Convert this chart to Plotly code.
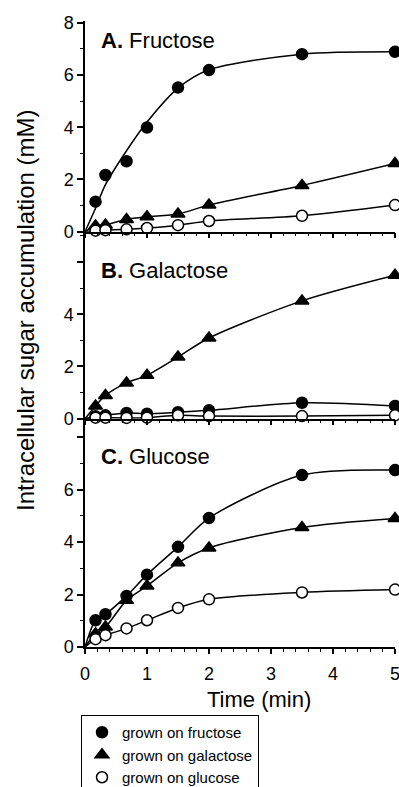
import plotly.graph_objects as go

# ---------------- data ----------------
time = [0.17, 0.33, 0.67, 1.0, 1.5, 2.0, 3.5, 5.0]

# Panel A. Fructose uptake
a_fru = [1.15, 2.17, 2.70, 3.99, 5.52, 6.19, 6.80, 6.89]
a_gal = [0.22, 0.26, 0.47, 0.57, 0.68, 1.02, 1.77, 2.61]
a_glc = [0.04, 0.06, 0.09, 0.14, 0.25, 0.41, 0.61, 1.02]
# Panel B. Galactose uptake
b_fru = [0.09, 0.13, 0.22, 0.19, 0.25, 0.32, 0.61, 0.49]
b_gal = [0.49, 0.89, 1.37, 1.66, 2.36, 3.09, 4.51, 5.49]
b_glc = [0.04, 0.04, 0.03, 0.04, 0.13, 0.10, 0.10, 0.13]
# Panel C. Glucose uptake
c_fru = [1.02, 1.25, 1.95, 2.76, 3.82, 4.92, 6.56, 6.75]
c_gal = [0.51, 0.76, 1.78, 2.33, 3.21, 3.78, 4.56, 4.90]
c_glc = [0.30, 0.45, 0.71, 1.02, 1.49, 1.82, 2.08, 2.19]

# fitted curve shown for fructose-grown cells in panel A
fit_time = [0, 0.17, 0.33, 0.67, 1.0, 1.5, 2.0, 3.5, 5.0]
a_fru_fit = [0, 0.90, 1.80, 3.10, 4.20, 5.50, 6.20, 6.80, 6.89]

series_names = ["grown on fructose", "grown on galactose", "grown on glucose"]
panel_titles = ["<b>A.</b> Fructose", "<b>B.</b> Galactose", "<b>C.</b> Glucose"]
x_ticks = [0, 1, 2, 3, 4, 5]
y_ticks = [[0, 2, 4, 6, 8], [0, 2, 4, 6], [0, 2, 4, 6, 8]]
y_ticktext = [["0", "2", "4", "6", "8"], ["0", "2", "4", ""], ["0", "2", "4", "6", ""]]

# ---------------- styling ----------------
FONT = "Liberation Sans, Arial, Helvetica, sans-serif"
W, H = 399, 787
ML, MR, MT, MB = 85, 4, 21, 140
plot_h = H - MT - MB
dom_A = [(647 - 231.7) / plot_h, 1.0]
dom_B = [(647 - 418.7) / plot_h, dom_A[0]]
dom_C = [0.0, dom_B[0]]
rng = [[0, 8.07], [0, 7.16], [0, 8.71]]

sym = ["circle", "triangle-up", "circle"]
fill = ["black", "black", "white"]
msize = [11, 12, 11]

panels = [
    ("x", "y", [a_fru, a_gal, a_glc]),
    ("x2", "y2", [b_fru, b_gal, b_glc]),
    ("x3", "y3", [c_fru, c_gal, c_glc]),
]

fig = go.Figure()

# lines first
for p, (xa, ya, vals) in enumerate(panels):
    for s, v in enumerate(vals):
        if p == 0 and s == 0:
            lx, ly = fit_time, a_fru_fit
        else:
            lx, ly = [0] + time, [0] + v
        fig.add_trace(go.Scatter(
            x=lx, y=ly, mode="lines", xaxis=xa, yaxis=ya,
            line=dict(color="black", width=1.5, shape="spline", smoothing=0.8),
            showlegend=False, hoverinfo="skip", cliponaxis=False))

# markers
for p, (xa, ya, vals) in enumerate(panels):
    for s, v in enumerate(vals):
        fig.add_trace(go.Scatter(
            x=time, y=v, mode="markers", xaxis=xa, yaxis=ya,
            name=series_names[s], legendgroup=series_names[s],
            showlegend=(p == 0),
            marker=dict(symbol=sym[s], size=msize[s], color=fill[s],
                        line=dict(color="black", width=1.5)),
            cliponaxis=False))

def xaxis(anchor, labels):
    return dict(
        domain=[0, 1], range=[0, 5], anchor=anchor,
        showline=True, linecolor="black", linewidth=1.5,
        ticks="outside", ticklen=5, tickwidth=1.5, tickcolor="black",
        tickmode="array", tickvals=x_ticks,
        showticklabels=labels, ticklabelstandoff=5,
        ticklabeloverflow="allow",
        tickfont=dict(size=18, color="black", family=FONT),
        minor=dict(tickmode="linear", tick0=0, dtick=0.2, ticks="outside",
                   ticklen=3, tickwidth=1, tickcolor="black"),
        showgrid=False, zeroline=False, fixedrange=True)

def yaxis(anchor, dom, r, tv, tt):
    return dict(
        domain=dom, range=r, anchor=anchor,
        showline=True, linecolor="black", linewidth=1.5,
        ticks="outside", ticklen=6, tickwidth=1.5, tickcolor="black",
        tickmode="array", tickvals=tv, ticktext=tt,
        ticklabeloverflow="allow",
        tickfont=dict(size=18, color="black", family=FONT),
        minor=dict(tickmode="linear", tick0=0, dtick=1, ticks="outside",
                   ticklen=3, tickwidth=1, tickcolor="black"),
        showgrid=False, zeroline=False, fixedrange=True)

annotations = []
label_y = [40, 270, 456.7]
for i, t in enumerate(panel_titles):
    annotations.append(dict(
        text=t, xref="paper", yref="paper",
        x=(99 - ML) / (W - ML - MR), y=(H - MB - label_y[i]) / plot_h,
        xanchor="left", yanchor="middle", showarrow=False,
        font=dict(size=22, color="black", family=FONT)))

annotations.append(dict(
    text="Time (min)", xref="paper", yref="paper",
    x=(259 - ML) / (W - ML - MR), y=(H - MB - 699) / plot_h,
    xanchor="center", yanchor="middle", showarrow=False,
    font=dict(size=22, color="black", family=FONT)))
annotations.append(dict(
    text="Intracellular sugar accumulation (mM)", xref="paper", yref="paper",
    x=(25 - ML) / (W - ML - MR), y=(H - MB - 311) / plot_h,
    xanchor="center", yanchor="middle", textangle=-90, showarrow=False,
    font=dict(size=24, color="black", family=FONT)))

fig.update_layout(
    width=W, height=H,
    margin=dict(l=ML, r=MR, t=MT, b=MB, pad=0, autoexpand=False),
    paper_bgcolor="white", plot_bgcolor="white",
    font=dict(family=FONT, color="black"),
    xaxis=xaxis("y", False),
    xaxis2=xaxis("y2", False),
    xaxis3=xaxis("y3", True),
    yaxis=yaxis("x", dom_A, rng[0], y_ticks[0], y_ticktext[0]),
    yaxis2=yaxis("x2", dom_B, rng[1], y_ticks[1], y_ticktext[1]),
    yaxis3=yaxis("x3", dom_C, rng[2], y_ticks[2], y_ticktext[2]),
    annotations=annotations,
    showlegend=True,
    legend=dict(
        xref="container", yref="container",
        x=81 / W, y=(H - 715) / H, xanchor="left", yanchor="top",
        bordercolor="black", borderwidth=1, bgcolor="white",
        font=dict(size=15, color="black", family=FONT),
        traceorder="normal", itemclick=False, itemdoubleclick=False),
)

fig.write_html("out.html", config=dict(displayModeBar=False))
